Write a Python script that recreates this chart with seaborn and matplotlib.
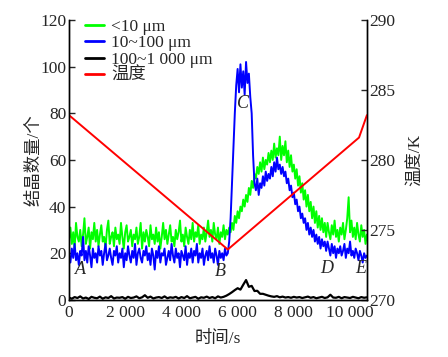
import numpy as np
import pandas as pd
import seaborn as sb
import matplotlib.pyplot as plt

# sampling times (s)
t_fine = np.arange(0, 10601, 50)      # green / blue series
t_coarse = np.arange(0, 10601, 100)   # black series

# <10 um crystal count
green = [
    26, 31, 24, 29, 22, 33, 27, 25, 30, 23,
    28, 35, 24, 27, 31, 22, 29, 26, 33, 25,
    30, 23, 28, 32, 25, 27, 22, 30, 34, 24,
    27, 29, 23, 31, 26, 28, 24, 33, 27, 22,
    29, 32, 25, 27, 30, 23, 28, 26, 31, 24,
    27, 33, 22, 29, 25, 30, 27, 23, 32, 26,
    28, 24, 31, 25, 29, 22, 27, 33, 26, 30,
    24, 28, 32, 25, 27, 23, 30, 26, 29, 34,
    25, 28, 23, 31, 27, 24, 30, 26, 33, 25,
    29, 27, 32, 24, 28, 26, 31, 25, 29, 34,
    27, 30, 25, 33, 28, 26, 31, 24, 29, 27,
    32, 26, 30,
    28, 31, 29, 33, 30, 36, 33, 38, 35, 40,
    38, 43, 40, 45, 42, 48, 45, 51, 48, 54,
    52, 57, 54, 59, 55, 61, 56, 60, 58, 63,
    59, 64, 60, 67, 61, 65, 62, 70, 60, 66,
    62, 68, 59, 64, 57, 62, 55, 58, 52, 56,
    49, 53, 46, 50, 43, 47, 40, 45, 38, 42,
    35, 40, 33, 38, 31, 36, 30, 35, 29, 33,
    27, 33, 29, 26, 32, 28, 34, 27, 30, 25,
    31, 28, 33, 26, 30, 35, 44, 29, 34, 27,
    31, 26, 33, 28, 25, 32, 27, 30, 24, 28,
]

# 10~100 um crystal count
blue = [
    19, 16, 22, 18, 24, 17, 20, 15, 21, 19,
    27, 17, 21, 16, 23, 19, 14, 22, 18, 20,
    16, 23, 19, 21, 15, 20, 24, 17, 19, 22,
    18, 15, 21, 19, 23, 16, 20, 18, 22, 14,
    20, 17, 23, 19, 16, 21, 18, 24, 15, 20,
    22, 18, 16, 21, 19, 23, 17, 20, 15, 22,
    19, 13, 21, 18, 23, 16, 20, 19, 22, 15,
    18, 21, 17, 24, 19, 16, 22, 18, 20, 14,
    21, 19, 17, 23, 15, 20, 18, 22, 16, 21,
    19, 24, 16, 20, 18, 22, 15, 19, 21, 17,
    23, 18, 20, 16, 22, 19, 15, 21, 18, 20,
    17, 22, 19,
    20, 25, 35, 50, 65, 80, 92, 99, 89, 101,
    91, 98, 88, 102, 93, 97, 87, 80, 62, 50,
    47, 52, 45, 50, 48, 53, 49, 55, 51, 54,
    52, 57, 53, 59, 55, 61, 56, 58, 54, 57,
    53, 55, 50, 52, 47, 49, 44, 46, 41, 43,
    38, 40, 35, 37, 33, 35, 30, 33, 28, 31,
    27, 30, 25, 28, 24, 27, 22, 26, 23, 25,
    21, 25, 22, 19, 24, 20, 23, 18, 22, 20,
    23, 19, 21, 24, 18, 22, 20, 25, 19, 21,
    18, 22, 20, 17, 21, 19, 16, 20, 18, 19,
]

# 100~1 000 um crystal count
black = [
    1, 0.5, 1.2, 0.8, 1.5, 0.6, 1.0, 0.4, 1.3, 0.9,
    0.7, 1.4, 0.5, 1.1, 0.8, 1.6, 0.6, 1.0, 0.9, 1.2,
    0.5, 1.3, 0.8, 1.0, 1.5, 0.7, 1.1, 2.0, 0.9, 1.4,
    0.6, 1.0, 1.2, 0.8, 1.5, 0.7, 1.1, 0.9, 1.3, 0.6,
    1.2, 0.8, 1.6, 0.7, 1.0, 1.3, 0.5, 1.1, 0.9, 1.4,
    0.8, 1.2, 0.7, 1.5, 1.0, 1.3, 1.8, 2.5, 3.3, 4.2,
    5.0, 4.4, 6.5, 8.5, 5.6, 6.0, 3.8, 3.9, 2.6, 2.6,
    2.2, 1.8, 1.5, 1.3, 1.6, 1.1, 1.4, 1.0, 1.2, 0.9,
    1.3, 1.0, 1.2, 0.8, 1.1, 1.4, 0.9, 1.2, 0.7, 1.0,
    1.3, 0.8, 1.1, 2.2, 1.0, 0.9, 1.3, 0.7, 1.2, 1.0,
    0.8, 1.3, 1.0, 0.7, 1.2, 0.9, 1.1,
]

# temperature profile (K)
temp_t = [0, 5650, 10320, 10600]
temp_k = [283.2, 273.6, 281.6, 283.2]

xticks = [0, 2000, 4000, 6000, 8000, 10000]
xticklabels = ['0', '2 000', '4 000', '6 000', '8 000', '10 000']

# point labels
marks = ['A', 'B', 'C', 'D', 'E']
mark_t = [210, 5380, 6190, 9180, 10370]
mark_v = [13, 12, 84, 13.5, 13.5]


def plot():
    df = pd.DataFrame({'t': t_fine, 'green': green, 'blue': blue})
    dk = pd.DataFrame({'t': t_coarse, 'black': black})
    dt = pd.DataFrame({'t': temp_t, 'T': temp_k})

    sb.set_theme(style='white')
    plt.rcParams['font.family'] = ['Liberation Serif', 'Noto Sans CJK SC']

    fig = plt.figure(figsize=(4.48, 3.57), dpi=100)
    ax = fig.add_axes([0.154, 0.160, 0.665, 0.784])
    ax2 = ax.twinx()

    sb.lineplot(data=dk, x='t', y='black', ax=ax, color='black', lw=1.6, label='100~1 000 μm')
    sb.lineplot(data=df, x='t', y='green', ax=ax, color='#00ff00', lw=1.4, label='<10 μm')
    sb.lineplot(data=df, x='t', y='blue', ax=ax, color='#0000ff', lw=1.4, label='10~100 μm')
    sb.lineplot(data=dt, x='t', y='T', ax=ax2, color='#ff0000', lw=1.4, label='温度')

    ax.set_xlim(0, 10600)
    ax.set_ylim(0, 120)
    ax2.set_ylim(270, 290)
    ax.set_xticks(xticks)
    ax.set_xticklabels(xticklabels)
    ax.set_yticks([0, 20, 40, 60, 80, 100, 120])
    ax2.set_yticks([270, 275, 280, 285, 290])

    fs = 12.5
    ax.set_xlabel('时间/s', fontsize=fs, labelpad=7)
    ax.set_ylabel('结晶数量/个', fontsize=fs, labelpad=-2)
    ax2.set_ylabel('温度/K', fontsize=fs, labelpad=9)

    for a in (ax, ax2):
        for s in a.spines.values():
            s.set_color('black')
            s.set_linewidth(1.0)
        a.spines['top'].set_visible(False)
    ax.tick_params(axis='y', direction='in', length=4, width=1, labelsize=fs, pad=2, left=True)
    ax.tick_params(axis='x', length=0, labelsize=fs, pad=4)
    ax2.tick_params(axis='y', direction='in', length=4, width=1, labelsize=fs, pad=2, right=True)

    for m, x, y in zip(marks, mark_t, mark_v):
        ax.text(x, y, m, fontsize=13, style='italic', ha='left' if m == 'A' else 'center', va='center')

    # one legend for both axes
    h1, l1 = ax.get_legend_handles_labels()
    h2, l2 = ax2.get_legend_handles_labels()
    order = [1, 2, 0]
    handles = [h1[i] for i in order] + h2
    labels = [l1[i] for i in order] + l2
    ax2.get_legend().remove()
    ax.get_legend().remove()
    leg = ax2.legend(handles, labels, loc='upper left', bbox_to_anchor=(0.03, 1.03),
                     frameon=False, fontsize=12.5, handlelength=1.1, handletextpad=0.4,
                     labelspacing=0.02, borderaxespad=0)
    for line in leg.get_lines():
        line.set_linewidth(2.0)

    plt.savefig('out.png', dpi=100)


if __name__ == '__main__':
    plot()
